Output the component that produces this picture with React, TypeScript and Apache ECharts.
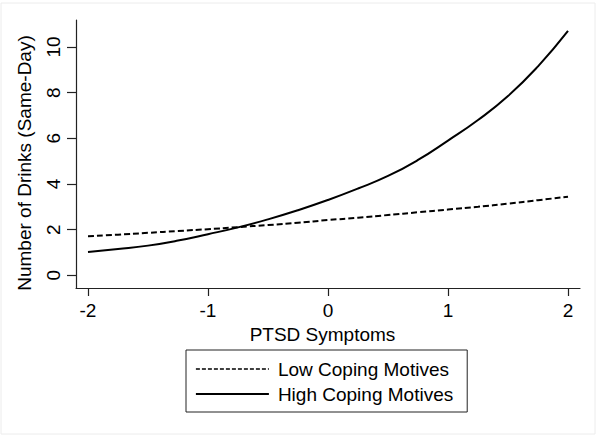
import React, { useEffect, useRef } from "react";
import * as echarts from "echarts";

const xValues = [-2, -1.75, -1.5, -1.25, -1, -0.75, -0.5, -0.25, 0, 0.25, 0.5, 0.75, 1, 1.25, 1.5, 1.75, 2];
const lowCoping = [1.71, 1.78, 1.86, 1.94, 2.02, 2.11, 2.2, 2.3, 2.42, 2.52, 2.64, 2.76, 2.88, 3.0, 3.14, 3.29, 3.44];
const highCoping = [1.02, 1.15, 1.3, 1.52, 1.8, 2.1, 2.45, 2.85, 3.3, 3.8, 4.35, 5.05, 5.9, 6.8, 7.85, 9.15, 10.7];
const xTicks = [-2, -1, 0, 1, 2];
const yTicks = [0, 2, 4, 6, 8, 10];

const FONT = "'Liberation Sans', Arial, Helvetica, sans-serif";

export default function App() {
  const ref = useRef<HTMLDivElement>(null);
  useEffect(() => {
    if (!ref.current) return;
    const chart = echarts.init(ref.current, null, { renderer: "svg" });
    const low = xValues.map((x, i) => [x, lowCoping[i]]);
    const high = xValues.map((x, i) => [x, highCoping[i]]);
    chart.setOption({
      animation: false,
      backgroundColor: "#fff",
      textStyle: { fontFamily: FONT },
      grid: { left: 76, right: 20, top: 20, bottom: 150, containLabel: false },
      xAxis: {
        type: "value",
        min: -2.1,
        max: 2.1,
        name: "PTSD Symptoms",
        nameLocation: "middle",
        nameGap: 36,
        nameTextStyle: { fontSize: 19, color: "#000", fontFamily: FONT, padding: [0, 11, 0, 0] },
        axisLine: { show: true, onZero: false, lineStyle: { color: "#222", width: 1.2 } },
        axisTick: { show: true, length: 8, customValues: xTicks, lineStyle: { color: "#222", width: 1.2 } },
        axisLabel: { customValues: xTicks, fontSize: 19, color: "#000", margin: 13, fontFamily: FONT },
        splitLine: { show: false },
      },
      yAxis: {
        type: "value",
        min: -0.556,
        max: 11.18,
        name: "Number of Drinks (Same-Day)",
        nameLocation: "middle",
        nameRotate: 90,
        nameGap: 42,
        nameTextStyle: { fontSize: 19, color: "#000", fontFamily: FONT, padding: [0, 18, 0, 0] },
        axisLine: { show: true, onZero: false, lineStyle: { color: "#222", width: 1.2 } },
        axisTick: { show: true, length: 9, customValues: yTicks, lineStyle: { color: "#222", width: 1.2 } },
        axisLabel: { customValues: yTicks, rotate: 90, fontSize: 19, color: "#000", margin: 13, fontFamily: FONT },
        splitLine: { show: false },
      },
      legend: {
        orient: "vertical",
        left: 186,
        top: 350,
        borderColor: "#222",
        borderWidth: 1,
        padding: [8, 14, 7, 9],
        itemWidth: 73,
        itemHeight: 14,
        itemGap: 3,
        itemStyle: { color: "rgba(0,0,0,0)", borderWidth: 0, opacity: 0 },
        textStyle: { fontSize: 19, color: "#000", lineHeight: 22, fontFamily: FONT, padding: [0, 0, 0, 4] },
        data: [
          { name: "Low Coping Motives", lineStyle: { color: "#000", width: 1.4, type: [4, 2] } },
          { name: "High Coping Motives", lineStyle: { color: "#000", width: 1.8, type: "solid" } },
        ],
      },
      graphic: [
        {
          type: "rect",
          shape: { x: 1, y: 3, width: 594, height: 431 },
          style: { fill: "none", stroke: "#ececec", lineWidth: 1 },
          silent: true,
        },
      ],
      series: [
        {
          name: "Low Coping Motives",
          type: "line",
          data: low,
          smooth: true,
          symbol: "none",
          showSymbol: false,
          lineStyle: { color: "#000", width: 2, type: [6, 3] },
          itemStyle: { color: "#000" },
        },
        {
          name: "High Coping Motives",
          type: "line",
          data: high,
          smooth: true,
          symbol: "none",
          showSymbol: false,
          lineStyle: { color: "#000", width: 2, type: "solid" },
          itemStyle: { color: "#000" },
        },
      ],
    });
    return () => chart.dispose();
  }, []);
  return (
    <div
      ref={ref}
      style={{ position: "fixed", left: 0, top: 0, width: 600, height: 438, background: "#fff" }}
    />
  );
}
